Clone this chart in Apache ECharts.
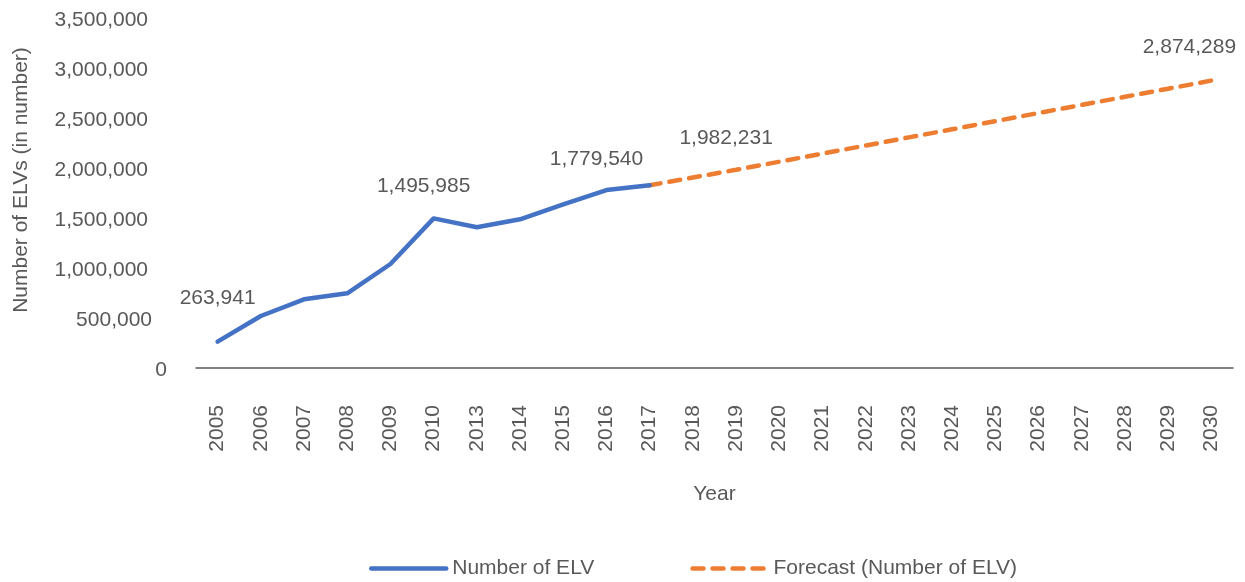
<!DOCTYPE html>
<html>
<head>
<meta charset="utf-8">
<script src="https://cdn.jsdelivr.net/npm/echarts@6/dist/echarts.min.js"></script>
<style>
  html, body { margin: 0; padding: 0; background: #fff; }
  #chart { width: 1245px; height: 582px; }
</style>
</head>
<body>
<div id="chart"></div>
<script>
const years = ["2005", "2006", "2007", "2008", "2009", "2010", "2013", "2014", "2015", "2016", "2017",
  "2018", "2019", "2020", "2021", "2022", "2023", "2024", "2025", "2026", "2027", "2028", "2029", "2030"];
const actual = [263941, 520000, 687000, 747000, 1040000, 1495985, 1407000, 1487000, 1637000, 1779540, 1827000];
const forecast = [1827000, 1905000, 1982231, 2063000, 2144000, 2225000, 2306000, 2387000,
  2468000, 2550000, 2631000, 2712000, 2793000, 2874289];
const yTicks = [0, 500000, 1000000, 1500000, 2000000, 2500000, 3000000, 3500000];

const FONT = "Liberation Sans, Arial, sans-serif";
const GREY = "#595959";
const FS = 21;
const fmt = (v) => Number(v).toLocaleString("en-US");

// labels shown on the chart, keyed by category index
const actualLabels = { 0: [0, -27], 5: [-10, -16], 9: [-10, -15] };
const forecastLabels = { 12: [-10, -16], 23: [-22, -17] };

const labelled = (v, i, offsets) => {
  if (v === "-") return v;
  const off = offsets[i];
  if (!off) return v;
  return { value: v, label: { show: true, offset: off } };
};

const actualData = years.map((y, i) => (i < actual.length ? actual[i] : "-"))
  .map((v, i) => labelled(v, i, actualLabels));
const startF = years.length - forecast.length;
const forecastData = years.map((y, i) => (i >= startF ? forecast[i - startF] : "-"))
  .map((v, i) => labelled(v, i, forecastLabels));

const seriesLabel = {
  show: false,
  position: "top",
  fontSize: FS,
  fontFamily: FONT,
  color: GREY,
  formatter: (p) => fmt(p.value),
};

const chart = echarts.init(document.getElementById("chart"));
const option = {
  animation: false,
  textStyle: { fontFamily: FONT, color: GREY },
  grid: { left: 196, right: 12, top: 18, bottom: 214 },
  legend: {
    top: 553,
    left: 364,
    itemWidth: 75,
    itemHeight: 12,
    itemGap: 96,
    itemStyle: { opacity: 0 },
    lineStyle: { width: 4.5, cap: "round" },
    textStyle: { fontFamily: FONT, fontSize: FS, color: GREY, padding: [0, 0, 0, 1] },
    data: ["Number of ELV", "Forecast (Number of ELV)"],
  },
  xAxis: {
    type: "category",
    data: years,
    boundaryGap: true,
    name: "Year",
    nameLocation: "middle",
    nameGap: 116,
    nameTextStyle: { fontFamily: FONT, fontSize: FS, color: GREY },
    axisLine: { lineStyle: { color: GREY, width: 1.5 } },
    axisTick: { show: false },
    axisLabel: { rotate: 90, margin: 37, fontSize: FS, color: GREY, fontFamily: FONT, interval: 0 },
  },
  yAxis: {
    type: "value",
    min: yTicks[0],
    max: yTicks[yTicks.length - 1],
    interval: yTicks[1] - yTicks[0],
    name: "Number of ELVs (in number)",
    nameLocation: "middle",
    nameGap: 164,
    nameTextStyle: { fontFamily: FONT, fontSize: FS, color: GREY, padding: [0, 0, 0, 26] },
    splitLine: { show: false },
    axisLine: { show: false },
    axisTick: { show: false },
    axisLabel: {
      margin: 29,
      fontSize: FS,
      color: GREY,
      fontFamily: FONT,
      formatter: (v) => {
        if (v === 0) return "{z|0}";
        if (v === 500000) return "{h|" + fmt(v) + "}";
        return "{n|" + fmt(v) + "}";
      },
      rich: {
        z: { fontSize: FS, fontFamily: FONT, color: GREY, padding: [4, 0, 0, 0] },
        h: { fontSize: FS, fontFamily: FONT, color: GREY, padding: [4, 15, 0, 0] },
        n: { fontSize: FS, fontFamily: FONT, color: GREY, padding: [4, 19, 0, 0] },
      },
    },
  },
  series: [
    {
      name: "Number of ELV",
      type: "line",
      data: actualData,
      symbol: "circle",
      symbolSize: 1,
      showSymbol: true,
      showAllSymbol: true,
      itemStyle: { color: "transparent", borderWidth: 0 },
      color: "#4472C4",
      lineStyle: { width: 4.5, color: "#4472C4", cap: "round", join: "round" },
      label: seriesLabel,
      z: 3,
    },
    {
      name: "Forecast (Number of ELV)",
      type: "line",
      data: forecastData,
      symbol: "circle",
      symbolSize: 1,
      showSymbol: true,
      showAllSymbol: true,
      itemStyle: { color: "transparent", borderWidth: 0 },
      color: "#ED7D31",
      lineStyle: { width: 4.5, color: "#ED7D31", type: [11, 9], cap: "round" },
      label: seriesLabel,
      z: 2,
    },
  ],
};

option && chart.setOption(option);
</script>
</body>
</html>
